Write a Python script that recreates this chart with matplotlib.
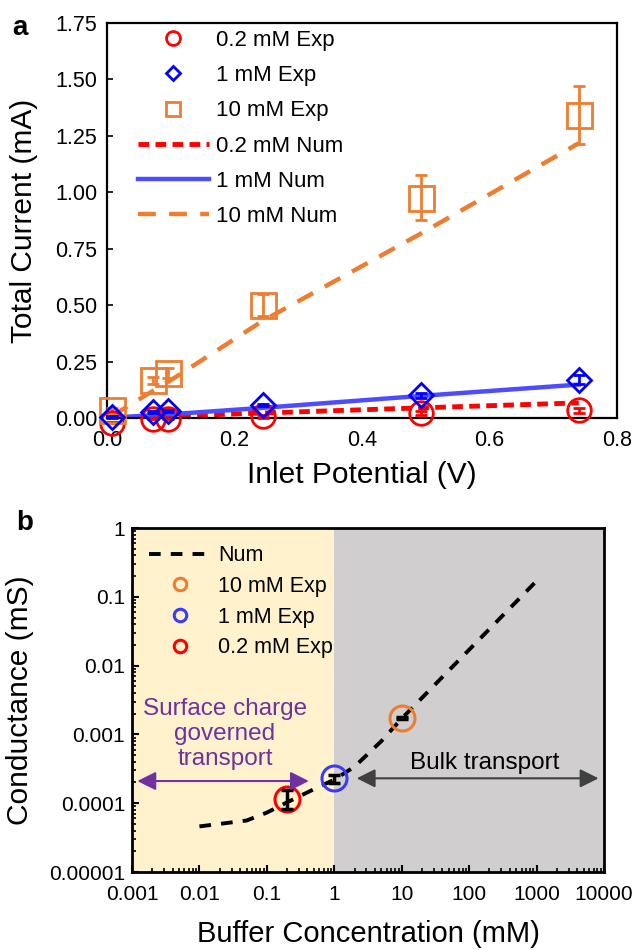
import matplotlib
matplotlib.use("Agg")
import matplotlib.pyplot as plt
import numpy as np
from matplotlib.ticker import LogLocator, NullFormatter
from matplotlib.lines import Line2D

plt.rcParams['font.family'] = ['Liberation Sans', 'DejaVu Sans']

# ---------------- Panel a data ----------------
potential = [0.008, 0.072, 0.096, 0.244, 0.493, 0.740]
exp_02 = [-0.02, -0.003, -0.003, 0.007, 0.022, 0.034]
err_02 = [0.003, 0.003, 0.003, 0.005, 0.010, 0.010]
exp_1 = [0.005, 0.027, 0.030, 0.059, 0.100, 0.170]
err_1 = [0.004, 0.004, 0.004, 0.005, 0.010, 0.020]
exp_10 = [0.034, 0.167, 0.200, 0.500, 0.976, 1.343]
err_10 = [0.010, 0.015, 0.022, 0.048, 0.100, 0.130]
num_02 = [0.001, 0.006, 0.008, 0.022, 0.045, 0.067]
num_1 = [0.002, 0.012, 0.016, 0.045, 0.098, 0.148]
num_10 = [0.010, 0.120, 0.160, 0.430, 0.818, 1.217]
a_yticks = [0.0, 0.25, 0.5, 0.75, 1.0, 1.25, 1.5, 1.75]
a_xticks = [0.0, 0.2, 0.4, 0.6, 0.8]

# ---------------- Panel b data ----------------
conc_num = [0.01, 0.05, 0.1, 0.2, 0.5, 1, 2, 5, 10, 100, 1000]
cond_num = [4.6e-5, 5.6e-5, 7.3e-5, 1.03e-4, 1.6e-4, 2.2e-4, 3.4e-4, 8.0e-4, 1.7e-3, 1.7e-2, 0.17]
conc_exp = [10, 1, 0.2]
cond_exp = [1.72e-3, 2.3e-4, 1.17e-4]
cond_lo = [1.65e-3, 1.95e-4, 8.3e-5]
cond_hi = [1.80e-3, 2.6e-4, 1.55e-4]
exp_labels = ['10 mM Exp', '1 mM Exp', '0.2 mM Exp']
exp_colors = ['#ED7D31', '#3A3AFF', '#FF0000']
b_xticks = [0.001, 0.01, 0.1, 1, 10, 100, 1000, 10000]
b_xlabels = ['0.001', '0.01', '0.1', '1', '10', '100', '1000', '10000']
b_yticks = [1e-5, 1e-4, 1e-3, 1e-2, 1e-1, 1]
b_ylabels = ['0.00001', '0.0001', '0.001', '0.01', '0.1', '1']

W, H = 632, 950
fig = plt.figure(figsize=(W / 100, H / 100), dpi=100)

def ax_rect(l, t, r, b):
    return [l / W, 1 - b / H, (r - l) / W, (b - t) / H]

def unclip(container):
    for art in container.get_children():
        art.set_clip_on(False)

RED = '#FF0000'
BLUE = '#0000FF'
BLUE_L = '#4D4DFF'
ORANGE = '#ED7D31'

# ================= Panel a =================
ax = fig.add_axes(ax_rect(107, 23, 617, 418))
ax.plot(potential, num_02, color=RED, lw=3.5, ls=(0, (2.2, 1.3)), zorder=2)
ax.plot(potential, num_1, color=BLUE_L, lw=3.2, ls='-', zorder=2)
ax.plot(potential, num_10, color=ORANGE, lw=3.2, ls=(0, (4, 3)), zorder=2)
e1 = ax.errorbar(potential, exp_02, yerr=err_02, fmt='o', ms=17, mfc='none', mec=RED, mew=2,
                 ecolor=RED, elinewidth=2, capsize=4, capthick=2, zorder=3)
e2 = ax.errorbar(potential, exp_1, yerr=err_1, fmt='D', ms=12, mfc='none', mec=BLUE, mew=2,
                 ecolor=BLUE, elinewidth=2, capsize=4, capthick=2, zorder=4)
e3 = ax.errorbar(potential, exp_10, yerr=err_10, fmt='s', ms=18, mfc='none', mec=ORANGE, mew=2,
                 ecolor=ORANGE, elinewidth=2, capsize=4, capthick=2, zorder=3)
for e in (e1, e2, e3):
    unclip(e)
ax.set_xlim(0, 0.8)
ax.set_ylim(0, 1.75)
ax.set_yticks(a_yticks)
ax.set_yticklabels(['%.2f' % v for v in a_yticks])
ax.set_xticks(a_xticks)
ax.set_xticklabels(['%.1f' % v for v in a_xticks])
ax.tick_params(axis='both', labelsize=15.5, direction='in', length=4, width=1.2, pad=7)
ax.tick_params(axis='x', length=0, pad=9)
for s in ax.spines.values():
    s.set_linewidth(1.6)
ax.set_xlabel('Inlet Potential (V)', fontsize=21.5)
ax.set_ylabel('Total Current (mA)', fontsize=21.5)
ax.xaxis.set_label_coords(0.5, -57 / 395)
ax.xaxis.label.set_va('center')
ax.yaxis.set_label_coords(-83 / 510, 0.5)
ax.yaxis.label.set_va('center')

h_a = [
    Line2D([], [], ls='none', marker='o', ms=10, mfc='none', mec=RED, mew=2),
    Line2D([], [], ls='none', marker='D', ms=7.5, mfc='none', mec=BLUE, mew=2),
    Line2D([], [], ls='none', marker='s', ms=10, mfc='none', mec=ORANGE, mew=2),
    Line2D([], [], color=RED, lw=3.5, ls=(0, (2.2, 1.3))),
    Line2D([], [], color=BLUE_L, lw=3.2),
    Line2D([], [], color=ORANGE, lw=3.2, ls=(0, (4, 3))),
]
lab_a = ['0.2 mM Exp', '1 mM Exp', '10 mM Exp', '0.2 mM Num', '1 mM Num', '10 mM Num']
ax.legend(h_a, lab_a, loc='upper left', frameon=False, fontsize=16,
          handlelength=3.2, handletextpad=0.3, labelspacing=0.64,
          bbox_to_anchor=(22 / 510, 1.005), borderaxespad=0.0)

fig.text(20 / W, 1 - 28 / H, 'a', fontsize=20, fontweight='bold', ha='center', va='center')

# ================= Panel b =================
bx = fig.add_axes(ax_rect(132, 528, 604, 872))
bx.set_xscale('log')
bx.set_yscale('log')
bx.set_xlim(1e-3, 1e4)
bx.set_ylim(1e-5, 1)
bx.axvspan(1e-3, 1, color='#FFF2CC', zorder=0, lw=0)
bx.axvspan(1, 1e4, color='#D0CECE', zorder=0, lw=0)
bx.plot(conc_num, cond_num, color='black', lw=2.8, ls=(0, (3, 2.6)), zorder=3)
for c, g, lo, hi, col in zip(conc_exp, cond_exp, cond_lo, cond_hi, exp_colors):
    bx.plot([c], [g], 'o', ms=18, mfc='none', mec=col, mew=2.2, zorder=4)
    bx.errorbar([c], [g], yerr=[[g - lo], [hi - g]], fmt='none', ecolor='black',
                elinewidth=2.5, capsize=4, capthick=2.5, zorder=5)
bx.set_xticks(b_xticks)
bx.set_xticklabels(b_xlabels)
bx.set_yticks(b_yticks)
bx.set_yticklabels(b_ylabels)
bx.xaxis.set_minor_locator(LogLocator(base=10, subs=np.arange(2, 10), numticks=20))
bx.yaxis.set_minor_locator(LogLocator(base=10, subs=np.arange(2, 10), numticks=20))
bx.xaxis.set_minor_formatter(NullFormatter())
bx.yaxis.set_minor_formatter(NullFormatter())
bx.tick_params(axis='both', which='major', labelsize=15, direction='in', length=5, width=1.5, pad=9)
bx.tick_params(axis='both', which='minor', direction='in', length=3, width=1.2)
bx.tick_params(axis='y', which='major', pad=5)
for s in bx.spines.values():
    s.set_linewidth(2)
bx.set_xlabel('Buffer Concentration (mM)', fontsize=21)
bx.set_ylabel('Conductance (mS)', fontsize=21.5)
bx.xaxis.set_label_coords(0.5, -62 / 344)
bx.xaxis.label.set_va('center')
bx.yaxis.set_label_coords(-112 / 472, 0.5)
bx.yaxis.label.set_va('center')

h_b = [Line2D([], [], color='black', lw=2.8, ls=(0, (3, 2.6)))] + [
    Line2D([], [], ls='none', marker='o', ms=9, mfc='none', mec=c, mew=2.2) for c in exp_colors]
bx.legend(h_b, ['Num'] + exp_labels, loc='upper left', frameon=False, fontsize=15.5,
          handlelength=2.9, handletextpad=0.3, labelspacing=0.45,
          bbox_to_anchor=(0.0, 1.0), borderaxespad=0.4)

# annotations
bx.annotate('', xy=(0.0012, 2.1e-4), xytext=(0.42, 2.1e-4),
            arrowprops=dict(arrowstyle='<|-|>', color='#7030A0', lw=1.5, mutation_scale=28,
                            shrinkA=0, shrinkB=0), zorder=6)
bx.annotate('', xy=(2.15, 2.3e-4), xytext=(8300, 2.3e-4),
            arrowprops=dict(arrowstyle='<|-|>', color='#404040', lw=1.5, mutation_scale=28,
                            shrinkA=0, shrinkB=0), zorder=6)
fig.text(225 / W, 1 - 734 / H, 'Surface charge\ngoverned\ntransport', color='#7030A0',
         fontsize=17.5, ha='center', va='center', linespacing=1.2)
fig.text(485 / W, 1 - 763 / H, 'Bulk transport', color='black', fontsize=17.5,
         ha='center', va='center')

fig.text(25 / W, 1 - 523 / H, 'b', fontsize=20, fontweight='bold', ha='center', va='center')

fig.savefig('out.png', dpi=100)
